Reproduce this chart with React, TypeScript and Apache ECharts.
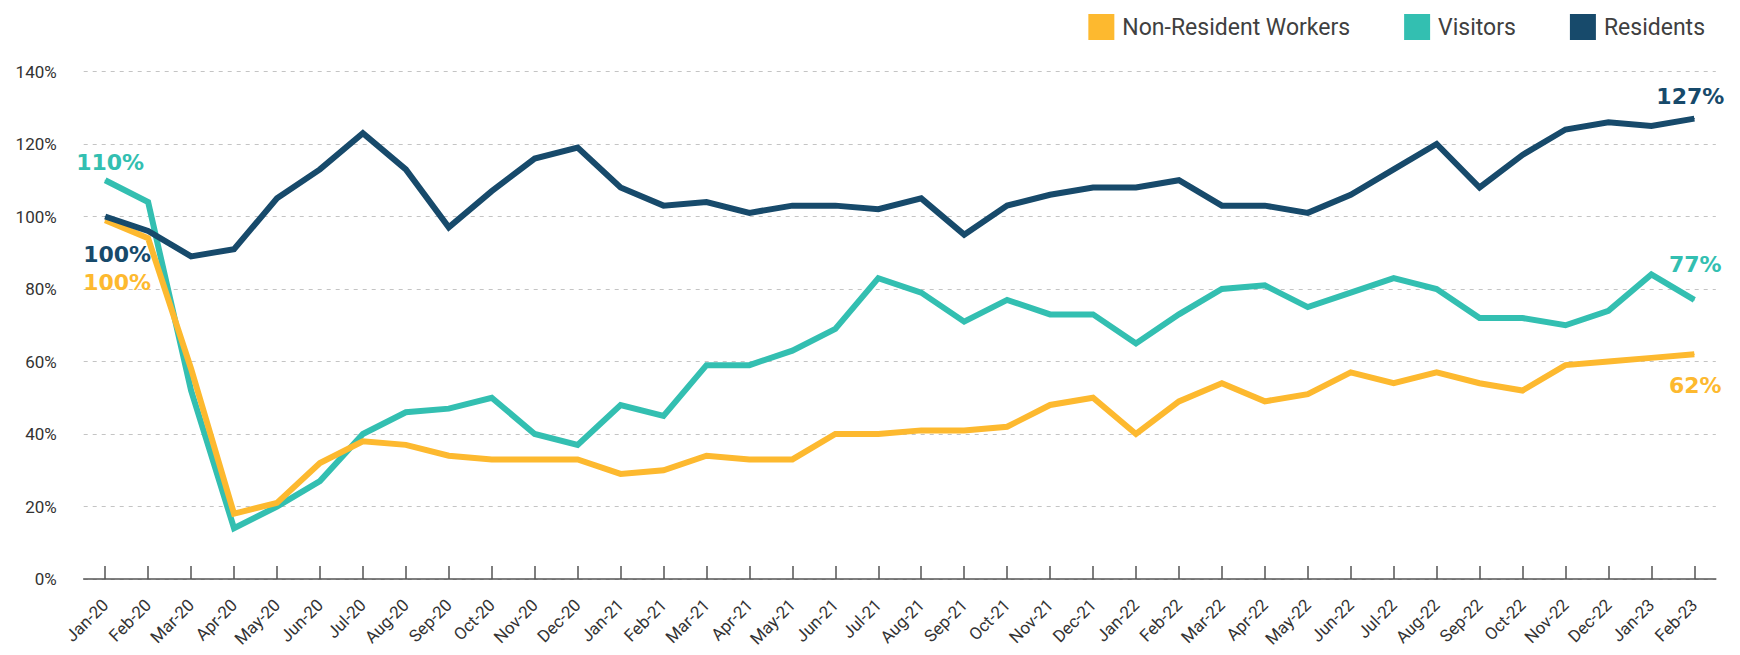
import React, { useEffect, useRef } from 'react';
import * as echarts from 'echarts';

const months = [
  'Jan-20', 'Feb-20', 'Mar-20', 'Apr-20', 'May-20', 'Jun-20', 'Jul-20', 'Aug-20', 'Sep-20', 'Oct-20', 'Nov-20', 'Dec-20',
  'Jan-21', 'Feb-21', 'Mar-21', 'Apr-21', 'May-21', 'Jun-21', 'Jul-21', 'Aug-21', 'Sep-21', 'Oct-21', 'Nov-21', 'Dec-21',
  'Jan-22', 'Feb-22', 'Mar-22', 'Apr-22', 'May-22', 'Jun-22', 'Jul-22', 'Aug-22', 'Sep-22', 'Oct-22', 'Nov-22', 'Dec-22',
  'Jan-23', 'Feb-23',
];

const nonResidentWorkers = [
  99, 94, 58, 18, 21, 32, 38, 37, 34, 33, 33, 33,
  29, 30, 34, 33, 33, 40, 40, 41, 41, 42, 48, 50,
  40, 49, 54, 49, 51, 57, 54, 57, 54, 52, 59, 60,
  61, 62,
];

const visitors = [
  110, 104, 52, 14, 20, 27, 40, 46, 47, 50, 40, 37,
  48, 45, 59, 59, 63, 69, 83, 79, 71, 77, 73, 73,
  65, 73, 80, 81, 75, 79, 83, 80, 72, 72, 70, 74,
  84, 77,
];

const residents = [
  100, 96, 89, 91, 105, 113, 123, 113, 97, 107, 116, 119,
  108, 103, 104, 101, 103, 103, 102, 105, 95, 103, 106, 108,
  108, 110, 103, 103, 101, 106, 113, 120, 108, 117, 124, 126,
  125, 127,
];

const seriesNames = ['Non-Resident Workers', 'Visitors', 'Residents'];
const startLabels = ['100%', '110%', '100%'];
const endLabels = ['62%', '77%', '127%'];

const COLORS = ['#FDB92F', '#33BFB1', '#174A6B'];

const labelFont = {
  fontFamily: 'DejaVu Sans',
  fontWeight: 'bold' as const,
  fontSize: 22,
};

function buildData(
  values: number[],
  color: string,
  startText: string,
  startOffset: number[],
  endText: string,
  endOffset: number[]
) {
  return values.map((v, i) => {
    if (i === 0) {
      return {
        value: v,
        label: { show: true, position: 'inside', formatter: startText, offset: startOffset, color, ...labelFont },
      };
    }
    if (i === values.length - 1) {
      return {
        value: v,
        label: { show: true, position: 'inside', formatter: endText, offset: endOffset, color, ...labelFont },
      };
    }
    return v;
  });
}

export default function App() {
  const ref = useRef<HTMLDivElement>(null);

  useEffect(() => {
    document.body.style.margin = '0';
    if (!ref.current) return;
    const chart = echarts.init(ref.current, undefined, { renderer: 'svg' });

    const lineSeries = (idx: number, values: number[], sOff: number[], eOff: number[], z: number) => ({
      name: seriesNames[idx],
      type: 'line',
      data: buildData(values, COLORS[idx], startLabels[idx], sOff, endLabels[idx], eOff),
      symbol: 'circle',
      symbolSize: 1,
      showSymbol: true,
      lineStyle: { width: 6, color: COLORS[idx], cap: 'butt', join: 'miter' },
      itemStyle: { color: COLORS[idx] },
      label: { show: false },
      emphasis: { disabled: true },
      z,
    });

    chart.setOption({
      animation: false,
      backgroundColor: '#ffffff',
      legend: {
        data: seriesNames,
        right: 30,
        top: 9,
        itemWidth: 26,
        itemHeight: 26,
        itemGap: 54,
        icon: 'rect',
        selectedMode: false,
        textStyle: {
          fontFamily: 'Roboto',
          fontSize: 23,
          color: '#404040',
          padding: [0, 0, 0, 3],
        },
      },
      grid: {
        left: 83.7,
        right: 24.2,
        top: 71.5,
        bottom: 76,
        containLabel: false,
      },
      xAxis: {
        type: 'category',
        data: months,
        boundaryGap: true,
        axisLine: { show: true, lineStyle: { color: '#555555', width: 1.5 } },
        axisTick: {
          show: true,
          alignWithLabel: true,
          inside: true,
          length: 13,
          lineStyle: { color: '#555555', width: 1.5 },
        },
        axisLabel: {
          interval: 0,
          rotate: 45,
          margin: 23,
          fontFamily: 'Roboto',
          fontSize: 17,
          color: '#333333',
        },
        splitLine: { show: false },
      },
      yAxis: {
        type: 'value',
        min: 0,
        max: 140,
        interval: 20,
        axisLine: { show: false },
        axisTick: { show: false },
        axisLabel: {
          formatter: '{value}%',
          fontFamily: 'Roboto',
          fontSize: 17,
          color: '#333333',
          margin: 27,
        },
        splitLine: {
          show: true,
          lineStyle: { color: '#c4c4c4', type: [4, 5], width: 1 },
        },
      },
      series: [
        lineSeries(1, visitors, [5, -18], [1, -35], 2),
        lineSeries(0, nonResidentWorkers, [12, 62], [1, 31], 3),
        lineSeries(2, residents, [12, 38], [-4, -22], 4),
      ],
    });

    return () => {
      chart.dispose();
    };
  }, []);

  return <div ref={ref} style={{ width: 1740, height: 655 }} />;
}
